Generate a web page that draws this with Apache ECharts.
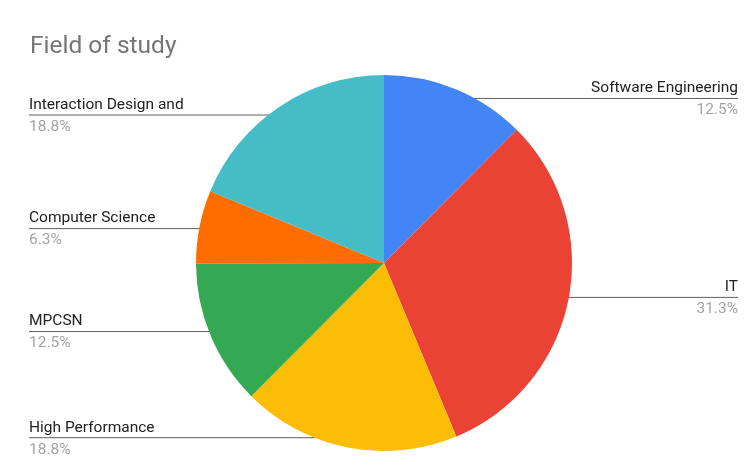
<!DOCTYPE html>
<html>
<head>
<meta charset="utf-8">
<title>Field of study</title>
<script src="https://cdn.jsdelivr.net/npm/echarts@6/dist/echarts.min.js"></script>
<style>
  html, body { margin: 0; padding: 0; background: #ffffff; }
  #chart { width: 751px; height: 470px; }
</style>
</head>
<body>
<div id="chart"></div>
<script>
// Share of respondents per field of study (percent)
const categories = [
  'Software Engineering',
  'IT',
  'High Performance',
  'MPCSN',
  'Computer Science',
  'Interaction Design and'
];
const shares = [12.5, 31.3, 18.8, 12.5, 6.3, 18.8];
const sliceColors = ['#4285F4', '#EA4335', '#FBBC04', '#34A853', '#FF6D01', '#46BDC6'];

const CENTER = [384, 263];
const RADIUS = 188;
const ANCHOR_RATIO = 0.947;   // where the leader line starts, relative to the radius
const EDGE_LEFT = 29;
const EDGE_RIGHT = 738;
const FONT = 'Roboto, Arial, sans-serif';

const chart = echarts.init(document.getElementById('chart'), null, { renderer: 'canvas' });

chart.setOption({
  animation: false,
  title: {
    text: 'Field of study',
    left: 25,
    top: 29,
    textStyle: {
      fontFamily: FONT,
      fontSize: 24.5,
      fontWeight: 'normal',
      color: '#757575'
    }
  },
  series: [{
    type: 'pie',
    center: CENTER,
    radius: RADIUS,
    startAngle: 90,
    clockwise: true,
    silent: true,
    emphasis: { disabled: true },
    itemStyle: { borderWidth: 0 },
    data: categories.map((name, i) => ({
      name: name,
      value: shares[i],
      itemStyle: { color: sliceColors[i] }
    })),
    label: {
      show: true,
      position: 'outside',
      formatter: p => '{n|' + p.name + '}\n{p|' + p.value.toFixed(1) + '%}',
      rich: {
        n: { fontFamily: FONT, fontSize: 15.5, color: '#222222', lineHeight: 24 },
        p: { fontFamily: FONT, fontSize: 15.5, color: '#a3a3a3', lineHeight: 20 }
      }
    },
    labelLine: {
      show: true,
      length: 0,
      length2: 0,
      lineStyle: { color: '#5f5f5f', width: 1 }
    },
    // Leader lines start inside each slice and run horizontally to the chart edge,
    // with the category name above the line and the share below it.
    labelLayout: function (params) {
      const p0 = params.labelLinePoints[0];
      const ax = CENTER[0] + (p0[0] - CENTER[0]) * ANCHOR_RATIO;
      const ay = CENTER[1] + (p0[1] - CENTER[1]) * ANCHOR_RATIO;
      const onLeft = ax < CENTER[0];
      const edgeX = onLeft ? EDGE_LEFT : EDGE_RIGHT;
      return {
        x: edgeX,
        y: ay,
        align: onLeft ? 'left' : 'right',
        verticalAlign: 'middle',
        labelLinePoints: [[ax, ay], [edgeX, ay]]
      };
    }
  }]
});
</script>
</body>
</html>
